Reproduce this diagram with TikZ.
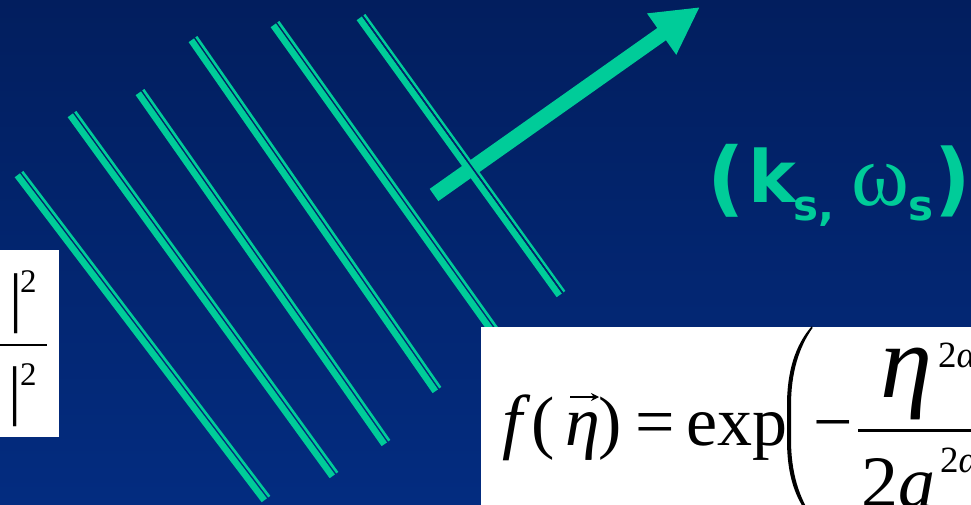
\documentclass[tikz,border=0pt]{standalone}
\usepackage{fontspec}
\setmainfont{Liberation Serif}
\newfontfamily\tfont{Liberation Serif}
\newfontfamily\vfont{DejaVu Sans}
\usetikzlibrary{arrows.meta}
\definecolor{bgtop}{RGB}{2,30,94}
\definecolor{bgbot}{RGB}{3,44,128}
\definecolor{bgmid}{RGB}{2,35,106}
\definecolor{wgreen}{RGB}{0,204,153}
\tikzset{
  thickstripe/.style={draw=wgreen,line width=6.5pt},
  thinstripe/.style={draw=wgreen,line width=2.6pt},
  gapstripe/.style={draw=bgmid,line width=1.6pt},
  glyph/.style={anchor=base west,inner sep=0pt,outer sep=0pt},
  wbox/.style={fill=white,draw=none},
  fs/.style={font=\tfont\fontsize{#1}{#1}\selectfont},
  fi/.style={font=\tfont\itshape\fontsize{#1}{#1}\selectfont},
  vb/.style={font=\vfont\bfseries\fontsize{#1}{#1}\selectfont,text=wgreen},
}
\begin{document}
\begin{tikzpicture}[x=1pt,y=-1pt]
\useasboundingbox (0,0) rectangle (971,505);
\clip (0,0) rectangle (971,505);
\shade[top color=bgtop,bottom color=bgbot] (0,0) rectangle (971,505);
% wave fronts 1-5
\foreach \i/\sx/\sy/\ex/\ey in {1/17.3/175.3/264.3/500.3,2/70.3/115.3/332.3/476.3,3/138.3/93.3/384.3/444.3,4/191.3/40.3/435.3/391.3,5/273.3/25.3/498/340}{
  \coordinate (s\i) at (\sx,\sy);
  \coordinate (e\i) at (\ex,\ey);
  \draw[thickstripe] (s\i) -- (e\i);
  \draw[thinstripe] ([shift={(5.0,-3.6)}]s\i) -- ([shift={(5.0,-3.6)}]e\i);
}
% arrow
\coordinate (atail) at (434,195);
\coordinate (atip) at (700,7);
\draw[wgreen,line width=15pt,-{Triangle[length=47pt,width=47pt]}] (atail) -- (atip);
% wave front 6 (over the arrow)
\coordinate (s6) at (359.3,18.3);
\coordinate (e6) at (559.3,295.3);
\draw[thickstripe] (s6) -- (e6);
\draw[thinstripe] ([shift={(5.0,-3.6)}]s6) -- ([shift={(5.0,-3.6)}]e6);
\draw[gapstripe] ([shift={(3.3,-2.4)}]s6) -- ([shift={(3.3,-2.4)}]e6);
% label
\node[glyph,vb=82] (lp) at (707.6,207) {(};
\node[glyph,vb=72] (kk) at (748,202) {k};
\node[glyph,vb=42] (ks) at (793,220) {s,};
\node[glyph,fs=88,text=wgreen] (om) at (851,205) {ω};
\node[glyph,vb=42] (os) at (908,220) {s};
\node[glyph,vb=80] (rp) at (934,206) {)};
% left white box
\fill[wbox] (0,250) rectangle (59,437);
\node[glyph,fs=66] (bar1) at (9.5,319.5) {|};
\node[glyph,fs=33] (sq1) at (20,292) {2};
\coordinate (fb1a) at (0,345);
\coordinate (fb1b) at (47,345);
\draw[line width=2pt] (fb1a) -- (fb1b);
\node[glyph,fs=66] (bar2) at (8.5,412.5) {|};
\node[glyph,fs=33] (sq2) at (20,385) {2};
% right white box
\fill[wbox] (481,327) rectangle (971,505);
\node[glyph,fi=72] (ff) at (502,445) {f};
\node[glyph,fs=70] (p1) at (531.5,445) {(};
\node[glyph,fi=70] (eta) at (565,445) {η};
\coordinate (va) at (570,397);
\coordinate (vbb) at (599,397);
\draw[line width=1.5pt,-{Stealth[length=8pt,width=8pt]}] (va) -- (vbb);
\node[glyph,fs=70] (p2) at (598,445) {)};
\node[glyph,fs=70] (eq) at (635,445) {=};
\node[glyph,fs=70] (ex) at (686,445) {exp};
\fill (812,326) .. controls (795,345) and (787,372) .. (787,405) -- (787,440) .. controls (787,475) and (795,500) .. (812,519)
  -- (812.5,517) .. controls (799,498) and (791,472) .. (791,440) -- (791,405) .. controls (791,373) and (799,347) .. (812.5,328) -- cycle;
\node[glyph,fs=70] (mi) at (813,445) {−};
\coordinate (fb2a) at (858,430);
\coordinate (fb2b) at (980,430);
\draw[line width=3pt] (fb2a) -- (fb2b);
\node[glyph,fi=105] (eta2) at (880,397) {η};
\node[glyph,fs=37] (n2) at (938,367) {2\textit{α}};
\node[glyph,fs=74] (d2) at (861,507) {2};
\node[glyph,fi=74] (da) at (898,507) {a};
\node[glyph,fs=37] (dd2) at (940,472) {2\textit{α}};
\end{tikzpicture}
\end{document}
